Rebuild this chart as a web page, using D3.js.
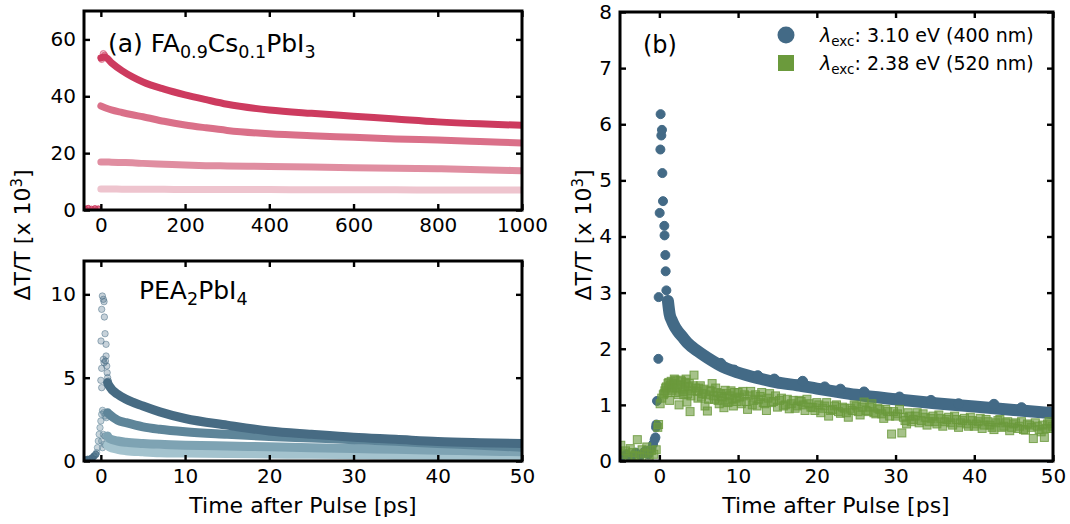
<!DOCTYPE html>
<html>
<head>
<meta charset="utf-8">
<title>Transient transmission</title>
<script src="https://cdn.jsdelivr.net/npm/d3@7"></script>
<style>
  body { margin: 0; background: #fff; }
  text { font-family: "DejaVu Sans", sans-serif; }
</style>
</head>
<body>
<script>
// ---- panel (a): FA0.9Cs0.1PbI3, 0..1000 ps, four fluences ----
const faTime = [0, 10, 25, 50, 75, 100, 150, 200, 250, 300, 400, 500, 600, 700, 800, 900, 1000];
const faS1 = [53.5, 53.8, 51.8, 49.0, 46.8, 45.0, 42.5, 40.5, 38.8, 37.2, 35.2, 34.0, 33.0, 32.0, 31.0, 30.3, 29.8];
const faS2 = [36.6, 36.0, 35.2, 34.3, 33.5, 32.8, 31.2, 29.9, 28.9, 28.0, 26.8, 26.1, 25.6, 25.0, 24.6, 24.1, 23.6];
const faS3 = [16.9, 16.9, 16.8, 16.7, 16.6, 16.4, 16.1, 15.8, 15.6, 15.5, 15.3, 15.1, 14.9, 14.7, 14.5, 14.2, 13.8];
const faS4 = [7.4, 7.4, 7.4, 7.3, 7.3, 7.3, 7.3, 7.2, 7.2, 7.2, 7.2, 7.1, 7.1, 7.1, 7.0, 7.0, 7.0];
const faPreT = [-38, -30, -22, -14, -6];
const faPreV = [0.4, 0.6, 0.3, 0.5, 0.4];
const faPeakT = [2, 6, 9];
const faPeakV = [53.0, 55.0, 54.4];
const faColors = ["#cd3b5f", "#da7089", "#e08ea1", "#eec4ce"];

// ---- panel (a) lower: PEA2PbI4, 0..50 ps ----
const peaTime = [0.8, 1, 2, 3, 5, 7, 10, 15, 20, 25, 30, 35, 40, 45, 50];
const peaS1 = [4.7, 4.5, 4.0, 3.7, 3.3, 2.95, 2.55, 2.15, 1.8, 1.6, 1.42, 1.3, 1.17, 1.1, 1.05];
const peaS2 = [2.9, 2.8, 2.45, 2.3, 2.05, 1.9, 1.75, 1.6, 1.47, 1.38, 1.28, 1.18, 1.05, 0.95, 0.82];
const peaS3 = [1.5, 1.35, 1.2, 1.12, 1.05, 1.0, 0.95, 0.9, 0.85, 0.8, 0.75, 0.7, 0.65, 0.6, 0.55];
const peaS4 = [0.95, 0.85, 0.7, 0.62, 0.55, 0.5, 0.48, 0.45, 0.42, 0.4, 0.38, 0.35, 0.33, 0.31, 0.3];
const peaSpikeT = [0.18, 0.3, 0.38, 0.1, 0.42, 0.5, 0.02, 0.62, 0.62, 0.3, 0.38, 0.1, 0.7, 0.0, 0.1, 0.9, 0.55, 0.75, 0.8];
const peaSpikeV = [9.9, 9.7, 9.56, 9.1, 8.64, 7.64, 7.2, 7.0, 6.3, 6.1, 5.9, 5.56, 5.7, 4.84, 4.4, 4.8, 6.0, 5.3, 5.0];
const peaRiseT = [-0.5, -0.4, -0.3, -0.2, -0.1, 0, 0.1, 0.2, 0.35, 0.5, 0.65, 0.1, 0.3, 0.5, 0.2, 0.4, 0.6];
const peaRiseV = [0.5, 0.8, 1.2, 1.6, 2.0, 2.4, 2.8, 3.04, 2.9, 2.7, 2.6, 1.2, 1.6, 1.5, 0.8, 1.0, 0.95];
const peaPreT = [-1.9, -1.6, -1.3, -1.0, -0.8, -0.6];
const peaPreV = [0.05, 0.1, 0.12, 0.2, 0.3, 0.4];
const peaColors = ["#476b83", "#5e8599", "#7ea3b3", "#a4c3ce"];

// ---- panel (b): excitation energy comparison ----
const blueT = [1.09, 1.3, 1.6, 1.94, 2.3, 3.0, 3.6, 4.85, 6.1, 7.4, 8.5, 9.9, 12.4, 14.9, 17.5, 20, 22.2, 25, 30, 35, 40, 45, 50];
const blueV = [2.85, 2.62, 2.5, 2.4, 2.32, 2.2, 2.1, 1.96, 1.84, 1.73, 1.65, 1.58, 1.48, 1.40, 1.35, 1.29, 1.24, 1.18, 1.1, 1.03, 0.97, 0.91, 0.85];
const blueBumpT = [12.5, 14.6, 18.2, 21, 26, 34.5, 42.5, 46, 9.5, 7.8, 23, 30.5, 38];
const blueBumpV = [1.52, 1.46, 1.42, 1.32, 1.23, 1.08, 1.01, 0.95, 1.62, 1.74, 1.28, 1.14, 1.02];
const blueSpikeT = [-4.8, -4.2, -3.6, -3.0, -2.4, -1.8, -1.4, -1.0, -0.8, -0.6, -0.5, -0.42, -0.38, -0.3, -0.13, -0.09, 0.04, 0.13, 0.16, 0.25, 0.33, 0.38, 0.46, 0.63, 0.66, 0.76, 0.8, 0.89];
const blueSpikeV = [0.08, 0.12, 0.05, 0.15, 0.1, 0.18, 0.12, 0.22, 0.3, 0.38, 0.42, 0.6, 0.65, 1.07, 1.82, 2.92, 4.42, 5.55, 6.18, 5.8, 5.9, 5.13, 4.63, 4.19, 4.02, 3.67, 3.38, 3.04];
const greenT = [-4.9, -4.6, -4.3, -4.0, -3.7, -3.4, -3.1, -2.8, -2.5, -2.2, -1.9, -1.6, -1.3, -1.0, -0.7,
  -0.4, -0.2, -0.1, 0.1, 0.3, 0.5,
  0.7, 0.9, 1.1, 1.3, 1.5, 1.7, 1.9, 2.1, 2.3, 2.5, 2.7, 2.9, 3.1, 3.3, 3.5, 3.7, 3.9, 4.1, 4.4, 4.6, 4.9,
  5.2, 5.5, 5.8, 6.1, 6.4, 6.7, 7.0, 7.3, 7.6, 7.9, 8.2, 8.5, 8.8, 9.1, 9.4, 9.7, 10.0, 10.4, 10.8, 11.2,
  11.6, 12.0, 12.4, 12.8, 13.2, 13.6, 14.0, 14.5, 15.0, 15.5, 16.0, 16.5, 17.0, 17.5, 18.0, 18.5, 19.0,
  19.5, 20.0, 20.5, 21.0, 21.5, 22.0, 22.5, 23.0, 23.5, 24.0, 24.5, 25.0, 25.5, 26.0, 26.5, 27.0, 27.5,
  28.0, 28.5, 29.0, 29.5, 30.0, 30.5, 30.8, 31.2, 31.6, 32.0, 32.5, 33.0, 33.5, 34.0, 34.5, 35.0, 35.5,
  36.0, 36.5, 37.0, 37.5, 38.0, 38.5, 39.0, 39.5, 40.0, 40.5, 41.0, 41.5, 42.0, 42.5, 43.0, 43.5, 44.0,
  44.5, 45.0, 45.5, 46.0, 46.5, 47.0, 47.5, 48.0, 48.5, 48.9, 49.3, 49.7];
const greenV = [0.28, 0.12, 0.18, 0.05, 0.22, 0.15, 0.10, 0.38, 0.08, 0.20, 0.14, 0.25, 0.06, 0.19, 0.12,
  0.20, 0.60, 0.65, 1.02, 1.12, 1.18,
  1.25, 1.32, 1.38, 1.08, 1.42, 1.30, 1.46, 1.22, 1.35, 1.00, 1.44, 1.28, 1.18, 1.40, 1.05, 1.32, 0.88, 1.25, 1.53, 1.30, 1.12,
  1.34, 1.20, 0.98, 0.89, 1.26, 1.38, 1.10, 1.22, 1.02, 1.15, 0.95, 1.20, 1.05, 1.25, 0.98, 1.12, 1.22, 1.02, 1.18, 0.92,
  1.24, 1.08, 0.98, 1.15, 1.04, 0.90, 1.20, 1.06, 0.96, 1.12, 1.00, 0.93, 1.08, 0.98, 1.06, 0.90, 1.02,
  0.95, 1.04, 0.86, 0.98, 0.80, 0.92, 1.00, 0.85, 0.94, 0.78, 0.90, 0.98, 0.82, 1.05, 0.88, 1.02, 0.84,
  0.92, 0.76, 0.88, 0.48, 0.80, 0.92, 0.50, 0.72, 0.86, 0.70, 0.80, 0.68, 0.84, 0.64, 0.76, 0.70, 0.82,
  0.62, 0.74, 0.68, 0.80, 0.60, 0.72, 0.66, 0.78, 0.62, 0.70, 0.58, 0.74, 0.64, 0.56, 0.72, 0.60, 0.68,
  0.54, 0.66, 0.58, 0.70, 0.55, 0.64, 0.40, 0.62, 0.52, 0.42, 0.66, 0.58];
// second pass of the 520 nm scan, interleaved in time
const green2T = [0.6, 0.8, 1.0, 1.2, 1.4, 1.6, 1.8, 2.0, 2.2, 2.4, 2.6, 2.8, 3.0, 3.2, 3.4, 3.6, 3.8, 4.0, 4.3, 4.8,
  5.0, 5.35, 5.65, 5.95, 6.25, 6.55, 6.85, 7.15, 7.45, 7.75, 8.05, 8.35, 8.65, 8.95, 9.25, 9.55, 9.85,
  10.2, 10.6, 11.0, 11.4, 11.8, 12.2, 12.6, 13.0, 13.4, 13.8, 14.25, 14.75, 15.25, 15.75, 16.25, 16.75,
  17.25, 17.75, 18.25, 18.75, 19.25, 19.75, 20.25, 20.75, 21.25, 21.75, 22.25, 22.75, 23.25, 23.75,
  24.25, 24.75, 25.25, 25.75, 26.25, 26.75, 27.25, 27.75, 28.25, 28.75, 29.25, 29.75, 30.25, 31.0,
  31.4, 31.8, 32.25, 32.75, 33.25, 33.75, 34.25, 34.75, 35.25, 35.75, 36.25, 36.75, 37.25, 37.75,
  38.25, 38.75, 39.25, 39.75, 40.25, 40.75, 41.25, 41.75, 42.25, 42.75, 43.25, 43.75, 44.25, 44.75,
  45.25, 45.75, 46.25, 46.75, 47.25, 47.75, 48.25, 48.7, 49.1, 49.5, 49.9];
const green2V = [1.20, 1.30, 1.22, 1.40, 1.35, 1.26, 1.38, 1.44, 1.30, 1.18, 1.36, 1.42, 1.24, 1.33, 1.46, 1.20, 1.38, 1.16, 1.34, 1.24,
  1.30, 1.14, 1.28, 1.18, 1.10, 1.24, 1.16, 1.30, 1.08, 1.20, 1.12, 1.26, 1.04, 1.16, 1.10, 1.22, 1.06,
  1.14, 1.24, 1.06, 1.16, 1.00, 1.18, 1.10, 1.22, 1.02, 1.12, 1.04, 1.16, 1.08, 0.98, 1.10, 1.02,
  0.94, 1.08, 1.00, 1.10, 0.96, 0.90, 1.00, 0.94, 1.04, 0.90, 0.98, 0.88, 0.96, 0.86,
  0.94, 1.00, 0.88, 0.96, 0.90, 0.96, 0.86, 0.94, 0.84, 0.92, 0.80, 0.88, 0.84, 0.78,
  0.66, 0.80, 0.74, 0.86, 0.72, 0.78, 0.70, 0.80, 0.66, 0.76, 0.70, 0.78, 0.64, 0.74,
  0.68, 0.76, 0.62, 0.72, 0.66, 0.76, 0.64, 0.70, 0.60, 0.68, 0.74, 0.62, 0.70, 0.60,
  0.68, 0.62, 0.56, 0.66, 0.60, 0.68, 0.56, 0.64, 0.58, 0.70, 0.62];
const blueColor = "#436a86";
const greenColor = "#6b9a3c";
const legendLabels = [" 3.10 eV (400 nm)", " 2.38 eV (520 nm)"];

const width = 1070, height = 524;
const svg = d3.select("body").append("svg").attr("width", width).attr("height", height);

// one panel: frame, inward ticks on all four sides, clip path for the data
function panel(id, x, y, xTicks, yTicks) {
  const [x0, x1] = x.range();
  const [y1, y0] = y.range();
  const g = svg.append("g");
  svg.append("clipPath").attr("id", id).append("rect")
    .attr("x", x0).attr("y", y0).attr("width", x1 - x0).attr("height", y1 - y0);
  const data = g.append("g").attr("clip-path", `url(#${id})`);

  const axes = [
    [d3.axisBottom(x).tickValues(xTicks).tickFormat(d3.format("d")), `translate(0,${y1})`],
    [d3.axisTop(x).tickValues(xTicks).tickFormat(""), `translate(0,${y0})`],
    [d3.axisLeft(y).tickValues(yTicks).tickFormat(d3.format("d")), `translate(${x0},0)`],
    [d3.axisRight(y).tickValues(yTicks).tickFormat(""), `translate(${x1},0)`]
  ];
  axes.forEach(([ax, tr]) => {
    const a = g.append("g").attr("transform", tr).call(ax.tickSize(-6).tickPadding(8));
    a.select(".domain").remove();
    a.selectAll("line").attr("stroke", "#000").attr("stroke-width", 2.4);
    a.selectAll("text").attr("font-family", "DejaVu Sans").attr("font-size", 20).attr("fill", "#000");
  });
  g.append("rect").attr("x", x0).attr("y", y0).attr("width", x1 - x0).attr("height", y1 - y0)
    .attr("fill", "none").attr("stroke", "#000").attr("stroke-width", 3);
  return data;
}

function band(g, x, y, ts, vs, color, w) {
  const line = d3.line().x(d => x(d[0])).y(d => y(d[1])).curve(d3.curveMonotoneX);
  g.append("path").datum(d3.zip(ts, vs)).attr("d", line)
    .attr("fill", "none").attr("stroke", color).attr("stroke-width", w)
    .attr("stroke-linecap", "round").attr("stroke-linejoin", "round");
}

function dots(g, x, y, ts, vs, color, r, op) {
  g.append("g").selectAll("circle").data(d3.zip(ts, vs)).join("circle")
    .attr("cx", d => x(d[0])).attr("cy", d => y(d[1])).attr("r", r)
    .attr("fill", color).attr("fill-opacity", op)
    .attr("stroke", color).attr("stroke-opacity", Math.min(1, op + 0.2)).attr("stroke-width", 1);
}

function squares(g, x, y, ts, vs, color) {
  g.append("g").selectAll("rect").data(d3.zip(ts, vs)).join("rect")
    .attr("x", d => x(d[0]) - 4).attr("y", d => y(d[1]) - 4)
    .attr("width", 8).attr("height", 8)
    .attr("fill", color).attr("fill-opacity", 0.6)
    .attr("stroke", color).attr("stroke-opacity", 0.85).attr("stroke-width", 1);
}

// ---- top left ----
const xA = d3.scaleLinear().domain([-40, 1000]).range([84, 522]);
const yA = d3.scaleLinear().domain([0, 70]).range([210, 11]);
const gA = panel("clipA", xA, yA, [0, 200, 400, 600, 800, 1000], [0, 20, 40, 60]);
[faS4, faS3, faS2, faS1].forEach((s, i) => band(gA, xA, yA, faTime, s, faColors[3 - i], 7));
dots(gA, xA, yA, faPreT, faPreV, faColors[0], 3, 0.7);
dots(gA, xA, yA, faPeakT, faPeakV, faColors[0], 3.2, 0.35);

// ---- bottom left ----
const xC = d3.scaleLinear().domain([-2, 50]).range([84, 522]);
const yC = d3.scaleLinear().domain([0, 12]).range([461, 261]);
const gC = panel("clipC", xC, yC, [0, 10, 20, 30, 40, 50], [0, 5, 10]);
dots(gC, xC, yC, peaPreT, peaPreV, peaColors[0], 3.2, 0.8);
dots(gC, xC, yC, peaRiseT, peaRiseV, peaColors[1], 3.2, 0.35);
dots(gC, xC, yC, peaSpikeT, peaSpikeV, peaColors[0], 3.2, 0.3);
[peaS4, peaS3, peaS2, peaS1].forEach((s, i) => band(gC, xC, yC, peaTime, s, peaColors[3 - i], 9));

// ---- right ----
const xB = d3.scaleLinear().domain([-5, 50]).range([620, 1053]);
const yB = d3.scaleLinear().domain([0, 8]).range([461, 12]);
const gB = panel("clipB", xB, yB, [0, 10, 20, 30, 40, 50], d3.range(0, 9));
band(gB, xB, yB, blueT, blueV, blueColor, 12);
dots(gB, xB, yB, blueSpikeT, blueSpikeV, blueColor, 4.5, 1);
dots(gB, xB, yB, blueBumpT, blueBumpV, blueColor, 5, 1);
squares(gB, xB, yB, greenT, greenV, greenColor);
squares(gB, xB, yB, green2T, green2V, greenColor);

// ---- texts ----
function sub(t, s, size, fs) {
  t.append("tspan").attr("dy", size * 0.22).attr("font-size", fs).text(s);
  return t;
}
function back(t, s, size) {
  t.append("tspan").attr("dy", -size * 0.22).attr("font-size", size).text(s);
}

const tA = svg.append("text").attr("x", 108).attr("y", 52).attr("font-size", 25).text("(a) FA");
sub(tA, "0.9", 25, 17.5); back(tA, "Cs", 25); sub(tA, "0.1", 25, 17.5); back(tA, "PbI", 25); sub(tA, "3", 25, 17.5);

const tC = svg.append("text").attr("x", 139).attr("y", 299).attr("font-size", 25).text("PEA");
sub(tC, "2", 25, 17.5); back(tC, "PbI", 25); sub(tC, "4", 25, 17.5);

svg.append("text").attr("x", 643).attr("y", 53).attr("font-size", 24).text("(b)");

function ylabel(xc, yc) {
  const t = svg.append("text").attr("transform", `translate(${xc},${yc}) rotate(-90)`)
    .attr("text-anchor", "middle").attr("font-size", 22).text("\u0394T/T [x 10");
  t.append("tspan").attr("dy", -8).attr("font-size", 15).text("3");
  t.append("tspan").attr("dy", 8).attr("font-size", 22).text("]");
}
ylabel(30, 235);
ylabel(591, 235);

[303, 836].forEach(xc => svg.append("text").attr("x", xc).attr("y", 513)
  .attr("text-anchor", "middle").attr("font-size", 22).text("Time after Pulse [ps]"));

// legend
const legY = [35, 63];
svg.append("circle").attr("cx", 786).attr("cy", legY[0]).attr("r", 8.5).attr("fill", blueColor);
svg.append("rect").attr("x", 778).attr("y", legY[1] - 8).attr("width", 16).attr("height", 16).attr("fill", greenColor);
legendLabels.forEach((lab, i) => {
  const t = svg.append("text").attr("x", 820).attr("y", legY[i] + 7).attr("font-size", 19);
  t.append("tspan").attr("font-style", "italic").text("\u03bb");
  t.append("tspan").attr("dy", 4).attr("font-size", 13.5).text("exc");
  t.append("tspan").attr("dy", -4).attr("font-size", 19).text(":" + lab);
});
</script>
</body>
</html>
